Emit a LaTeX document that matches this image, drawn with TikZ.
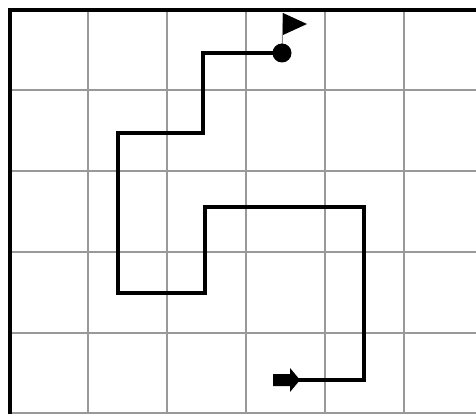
\documentclass[tikz,border=0pt]{standalone}
\begin{document}
\begin{tikzpicture}[x=1pt,y=-1pt,
  gridline/.style={draw=black!40,line width=1.6pt},
  border/.style={draw=black,line width=3.5pt},
  route/.style={draw=black,line width=3.6pt,line join=miter,line cap=rect}]
\useasboundingbox (0,0) rectangle (476,414);
% grid
\foreach \x in {88,167,246,325,404} \draw[gridline] (\x,10) -- (\x,414);
\foreach \y in {90,171,252,333,413} \draw[gridline] (10,\y) -- (476,\y);
% border
\draw[border] (10,414) -- (10,10) -- (476,10);
% path corners
\coordinate (s) at (298,380);
\coordinate (c1) at (364,380);
\coordinate (c2) at (364,207);
\coordinate (c3) at (205,207);
\coordinate (c4) at (205,293);
\coordinate (c5) at (118,293);
\coordinate (c6) at (118,133);
\coordinate (c7) at (203,133);
\coordinate (c8) at (203,53);
\coordinate (e) at (282,53);
\draw[route] (s) -- (c1) -- (c2) -- (c3) -- (c4) -- (c5) -- (c6) -- (c7) -- (c8) -- (e);
% start arrow
\fill[black] (273,374) -- (290,374) -- (290,368) -- (300,380) -- (290,392) -- (290,386) -- (273,386) -- cycle;
% finish flag
\draw[black!45,line width=1pt] (e) -- (283,13);
\fill[black] (283,13) -- (307,24) -- (283,35) -- cycle;
\fill[black] (e) circle (9.5);
\end{tikzpicture}
\end{document}
